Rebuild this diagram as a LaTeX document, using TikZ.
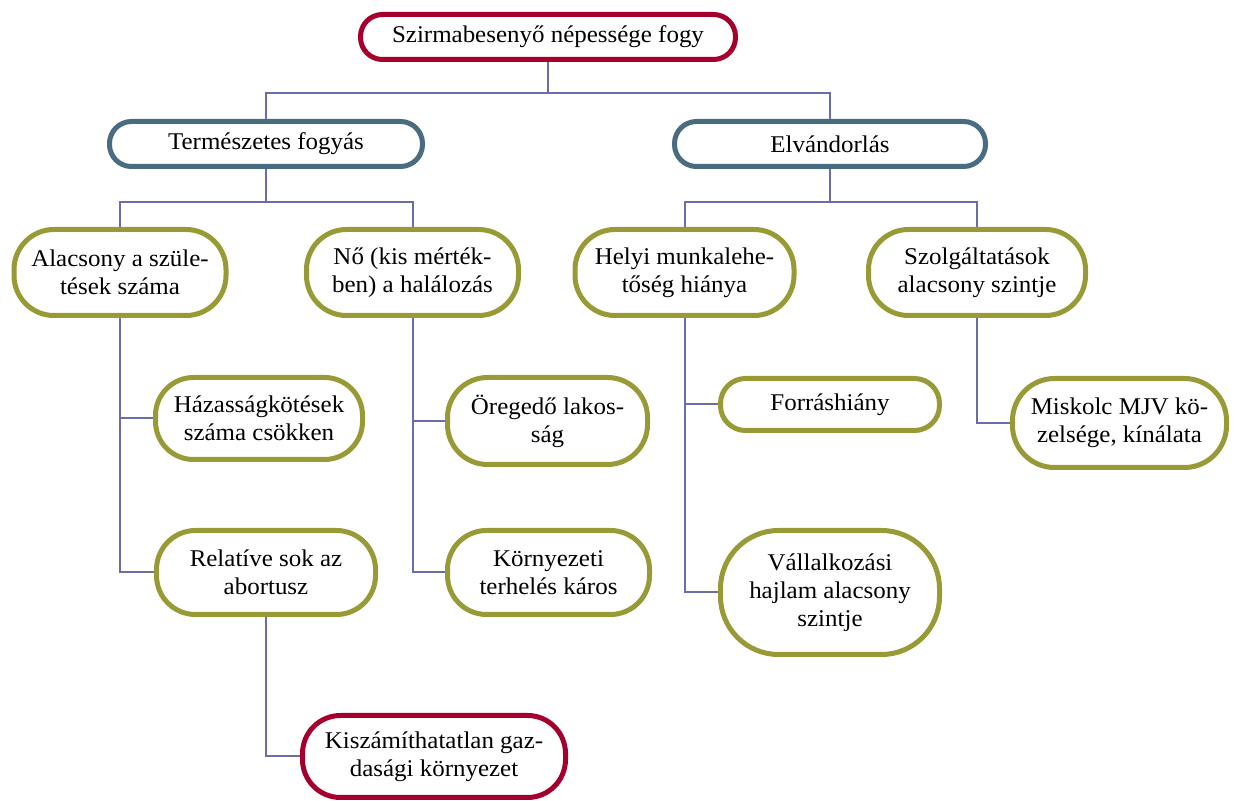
\documentclass[tikz,border=0pt]{standalone}
\usepackage{fontspec}
\setmainfont{Liberation Serif}[FakeStretch=1.04]
\definecolor{crim}{HTML}{A5002D}
\definecolor{slate}{HTML}{4A6C80}
\definecolor{olive}{HTML}{989A36}
\definecolor{conn}{HTML}{6C6CA8}
\tikzset{
  pill/.style={draw, line width=5pt, fill=white, align=center, inner sep=0pt,
    font=\fontsize{24}{28}\selectfont},
  conn/.style={draw=conn, line width=2pt},
}
\begin{document}
\begin{tikzpicture}[x=1pt,y=1pt]
\useasboundingbox (0,0) rectangle (1235,801);
% level 0
\node[pill, draw=crim, minimum width=375pt, minimum height=45pt, rounded corners=22pt] (top) at (548,764) {Szirmabesenyő népessége fogy};
% level 1
\node[pill, draw=slate, minimum width=313pt, minimum height=45pt, rounded corners=22pt] (term) at (266,657) {Természetes fogyás};
\node[pill, draw=slate, minimum width=311pt, minimum height=45pt, rounded corners=22pt] (elv) at (830,657) {Elvándorlás};
% level 2
\node[pill, draw=olive, minimum width=212pt, minimum height=86pt, rounded corners=40pt] (alac) at (120,528.5) {Alacsony a szüle-\\tések száma};
\node[pill, draw=olive, minimum width=212pt, minimum height=86pt, rounded corners=40pt] (no) at (412.5,528.5) {Nő (kis mérték-\\ben) a halálozás};
\node[pill, draw=olive, minimum width=219pt, minimum height=86pt, rounded corners=40pt] (helyi) at (684.5,528.5) {Helyi munkalehe-\\tőség hiánya};
\node[pill, draw=olive, minimum width=217pt, minimum height=86pt, rounded corners=40pt] (szolg) at (977,528.5) {Szolgáltatások\\alacsony szintje};
% level 3
\node[pill, draw=olive, minimum width=207pt, minimum height=82pt, rounded corners=38pt] (haz) at (259,382.5) {Házasságkötések\\száma csökken};
\node[pill, draw=olive, minimum width=219pt, minimum height=84pt, rounded corners=39pt] (rel) at (266,228.5) {Relatíve sok az\\abortusz};
\node[pill, draw=olive, minimum width=200pt, minimum height=87pt, rounded corners=40pt] (oreg) at (547.5,380) {Öregedő lakos-\\ság};
\node[pill, draw=olive, minimum width=202pt, minimum height=84pt, rounded corners=39pt] (korny) at (548.5,228.5) {Környezeti\\terhelés káros};
\node[pill, draw=olive, minimum width=219pt, minimum height=52pt, rounded corners=25pt] (forr) at (830,396.5) {Forráshiány};
\node[pill, draw=olive, minimum width=219pt, minimum height=124pt, rounded corners=58pt] (vall) at (830,208.5) {Vállalkozási\\hajlam alacsony\\szintje};
\node[pill, draw=olive, minimum width=214pt, minimum height=89pt, rounded corners=42pt] (misk) at (1119.5,378) {Miskolc MJV kö-\\zelsége, kínálata};
\node[pill, draw=crim, minimum width=263pt, minimum height=82pt, rounded corners=38pt] (kisz) at (434,44.5) {Kiszámíthatatlan gaz-\\dasági környezet};
% junctions
\coordinate (j0) at (548,708);
\coordinate (j1) at (266,599);
\coordinate (j2) at (830,599);
% connectors
\path[conn] (top.south) -- (j0);
\path[conn] (term.north) |- (j0) -| (elv.north);
\path[conn] (term.south) -- (j1);
\path[conn] (alac.north) |- (j1) -| (no.north);
\path[conn] (elv.south) -- (j2);
\path[conn] (helyi.north) |- (j2) -| (szolg.north);
\path[conn] (alac.south) |- (rel.west);
\path[conn] (alac.south |- haz.west) -- (haz.west);
\path[conn] (no.south) |- (korny.west);
\path[conn] (no.south |- oreg.west) -- (oreg.west);
\path[conn] (helyi.south) |- (vall.west);
\path[conn] (helyi.south |- forr.west) -- (forr.west);
\path[conn] (szolg.south) |- (misk.west);
\path[conn] (rel.south) |- (kisz.west);
\end{tikzpicture}
\end{document}
